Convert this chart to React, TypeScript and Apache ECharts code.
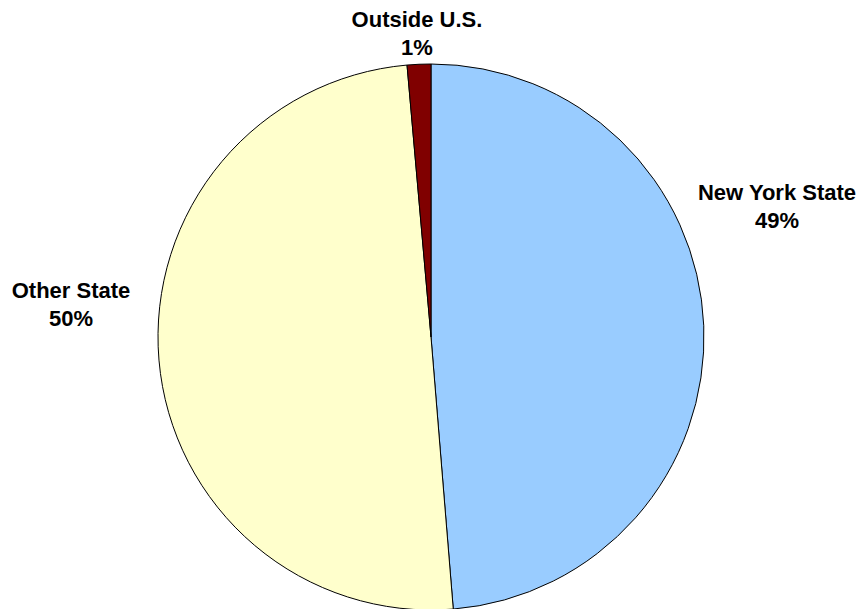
import React, { useEffect, useRef } from "react";
import * as echarts from "echarts";

const categories = ["New York State", "Other State", "Outside U.S."];
const shares = [48.7, 49.9, 1.4];
const colors = ["#99CCFF", "#FFFFCC", "#800000"];
const labelCenters: [number, number][] = [
  [777, 206],
  [71, 304],
  [417, 33],
];

export default function App() {
  const ref = useRef<HTMLDivElement>(null);
  useEffect(() => {
    if (!ref.current) return;
    const chart = echarts.init(ref.current, null, { renderer: "svg" });
    chart.setOption({
      animation: false,
      backgroundColor: "#ffffff",
      series: [
        {
          type: "pie",
          center: [431, 337],
          radius: 273,
          startAngle: 90,
          clockwise: true,
          avoidLabelOverlap: false,
          itemStyle: { borderColor: "#000000", borderWidth: 1 },
          label: {
            show: true,
            position: "outside",
            formatter: (p: any) => `${p.name}\n${Math.round(p.percent)}%`,
            fontFamily: "Arial, 'Liberation Sans', sans-serif",
            fontWeight: "bold",
            fontSize: 22,
            lineHeight: 28,
            color: "#000000",
            align: "center",
          },
          labelLine: { show: false },
          labelLayout: (params: any) => {
            const c = labelCenters[params.dataIndex];
            return { x: c[0], y: c[1], align: "center", verticalAlign: "middle" };
          },
          data: categories.map((name, i) => ({
            name,
            value: shares[i],
            itemStyle: { color: colors[i] },
          })),
        },
      ],
    });
    return () => chart.dispose();
  }, []);
  return (
    <div
      ref={ref}
      style={{ position: "fixed", left: 0, top: 0, width: 863, height: 609 }}
    />
  );
}
